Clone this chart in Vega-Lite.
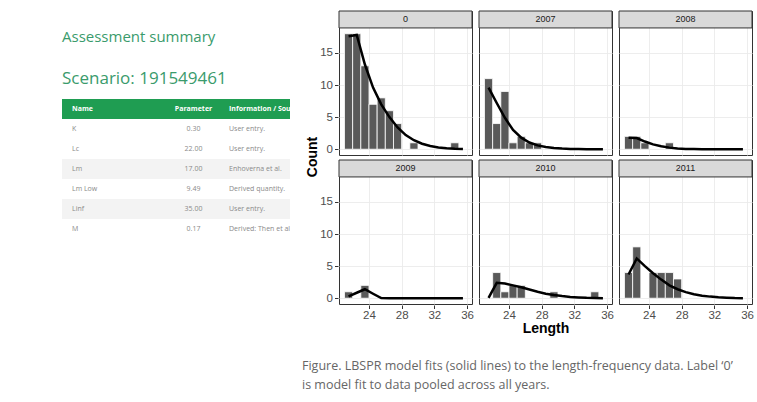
{
  "$schema": "https://vega.github.io/schema/vega-lite/v6.json",
  "padding": {"left": 62, "top": 10, "right": 0, "bottom": 0},
  "background": "white",
  "spacing": 11,
  "hconcat": [
    {
      "width": 228,
      "height": 294,
      "view": {"stroke": null},
      "data": {"values": [
        {"row": "Name", "col": "Name", "text": "Name"},
        {"row": "Name", "col": "Parameter", "text": "Parameter"},
        {"row": "Name", "col": "Info", "text": "Information / Source"},
        {"row": "K", "col": "Name", "text": "K"},
        {"row": "K", "col": "Parameter", "text": "0.30"},
        {"row": "K", "col": "Info", "text": "User entry."},
        {"row": "Lc", "col": "Name", "text": "Lc"},
        {"row": "Lc", "col": "Parameter", "text": "22.00"},
        {"row": "Lc", "col": "Info", "text": "User entry."},
        {"row": "Lm", "col": "Name", "text": "Lm"},
        {"row": "Lm", "col": "Parameter", "text": "17.00"},
        {"row": "Lm", "col": "Info", "text": "Enhoverna et al."},
        {"row": "Lm Low", "col": "Name", "text": "Lm Low"},
        {"row": "Lm Low", "col": "Parameter", "text": "9.49"},
        {"row": "Lm Low", "col": "Info", "text": "Derived quantity."},
        {"row": "Linf", "col": "Name", "text": "Linf"},
        {"row": "Linf", "col": "Parameter", "text": "35.00"},
        {"row": "Linf", "col": "Info", "text": "User entry."},
        {"row": "M", "col": "Name", "text": "M"},
        {"row": "M", "col": "Parameter", "text": "0.17"},
        {"row": "M", "col": "Info", "text": "Derived: Then et al."}
      ]},
      "encoding": {
        "y": {"field": "row", "type": "ordinal", "sort": ["Name", "K", "Lc", "Lm", "Lm Low", "Linf", "M"], "scale": {"range": [88, 228], "paddingInner": 0, "paddingOuter": 0}, "axis": null}
      },
      "layer": [
        {"transform": [{"filter": "datum.row === 'Name'"}], "mark": {"type": "rect", "color": "#1f9d52"}},
        {"transform": [{"filter": "datum.row === 'Lm' || datum.row === 'Linf'"}], "mark": {"type": "rect", "color": "#f3f3f3"}},
        {"transform": [{"filter": "datum.row === 'Name' && datum.col !== 'Parameter'"}],
         "mark": {"type": "text", "align": "left", "baseline": "middle", "font": "Open Sans", "fontSize": 7, "fontWeight": "bold", "color": "white", "clip": true},
         "encoding": {"x": {"field": "col", "type": "nominal", "sort": ["Name", "Parameter", "Info"], "scale": {"type": "point", "range": [10, 167], "padding": 0}, "axis": null}, "text": {"field": "text"}}},
        {"transform": [{"filter": "datum.row === 'Name' && datum.col === 'Parameter'"}],
         "mark": {"type": "text", "align": "center", "baseline": "middle", "dx": 43, "font": "Open Sans", "fontSize": 7, "fontWeight": "bold", "color": "white"},
         "encoding": {"x": {"field": "col", "type": "nominal", "sort": ["Name", "Parameter", "Info"], "scale": {"type": "point", "range": [10, 167], "padding": 0}, "axis": null}, "text": {"field": "text"}}},
        {"transform": [{"filter": "datum.row !== 'Name' && datum.col !== 'Parameter'"}],
         "mark": {"type": "text", "align": "left", "baseline": "middle", "font": "Open Sans", "fontSize": 7, "color": "#8a8a8a", "clip": true},
         "encoding": {"x": {"field": "col", "type": "nominal", "sort": ["Name", "Parameter", "Info"], "scale": {"type": "point", "range": [10, 167], "padding": 0}, "axis": null}, "text": {"field": "text"}}},
        {"transform": [{"filter": "datum.row !== 'Name' && datum.col === 'Parameter'"}],
         "mark": {"type": "text", "align": "center", "baseline": "middle", "dx": 43, "font": "Open Sans", "fontSize": 7, "color": "#8a8a8a"},
         "encoding": {"x": {"field": "col", "type": "nominal", "sort": ["Name", "Parameter", "Info"], "scale": {"type": "point", "range": [10, 167], "padding": 0}, "axis": null}, "text": {"field": "text"}}},
        {"transform": [{"filter": "datum.row === 'Name' && datum.col === 'Name'"}],
         "mark": {"type": "text", "align": "left", "baseline": "middle", "dx": -10, "dy": -72, "font": "Open Sans", "fontSize": 15, "color": "#3a9b6c"},
         "encoding": {"x": {"field": "col", "type": "nominal", "sort": ["Name", "Parameter", "Info"], "scale": {"type": "point", "range": [10, 167], "padding": 0}, "axis": null}, "text": {"value": "Assessment summary"}}},
        {"transform": [{"filter": "datum.row === 'Name' && datum.col === 'Name'"}],
         "mark": {"type": "text", "align": "left", "baseline": "middle", "dx": -10, "dy": -30, "font": "Open Sans", "fontSize": 17, "color": "#3a9b6c"},
         "encoding": {"x": {"field": "col", "type": "nominal", "sort": ["Name", "Parameter", "Info"], "scale": {"type": "point", "range": [10, 167], "padding": 0}, "axis": null}, "text": {"value": "Scenario: 191549461"}}}
      ]
    },
    {
      "data": {"values": [
        {"panel": "0", "lo": 21, "hi": 22, "n": 18}, {"panel": "0", "lo": 22, "hi": 23, "n": 18}, {"panel": "0", "lo": 23, "hi": 24, "n": 13},
        {"panel": "0", "lo": 24, "hi": 25, "n": 7}, {"panel": "0", "lo": 25, "hi": 26, "n": 8}, {"panel": "0", "lo": 26, "hi": 27, "n": 6},
        {"panel": "0", "lo": 27, "hi": 28, "n": 4}, {"panel": "0", "lo": 29, "hi": 30, "n": 1}, {"panel": "0", "lo": 34, "hi": 35, "n": 1},
        {"panel": "2007", "lo": 21, "hi": 22, "n": 11}, {"panel": "2007", "lo": 22, "hi": 23, "n": 4}, {"panel": "2007", "lo": 23, "hi": 24, "n": 9},
        {"panel": "2007", "lo": 24, "hi": 25, "n": 1}, {"panel": "2007", "lo": 25, "hi": 26, "n": 2}, {"panel": "2007", "lo": 26, "hi": 27, "n": 1},
        {"panel": "2007", "lo": 27, "hi": 28, "n": 1},
        {"panel": "2008", "lo": 21, "hi": 22, "n": 2}, {"panel": "2008", "lo": 22, "hi": 23, "n": 2}, {"panel": "2008", "lo": 23, "hi": 24, "n": 1},
        {"panel": "2008", "lo": 26, "hi": 27, "n": 1},
        {"panel": "2009", "lo": 21, "hi": 22, "n": 1}, {"panel": "2009", "lo": 23, "hi": 24, "n": 2},
        {"panel": "2010", "lo": 22, "hi": 23, "n": 4}, {"panel": "2010", "lo": 23, "hi": 24, "n": 1}, {"panel": "2010", "lo": 24, "hi": 25, "n": 2},
        {"panel": "2010", "lo": 25, "hi": 26, "n": 2}, {"panel": "2010", "lo": 29, "hi": 30, "n": 1}, {"panel": "2010", "lo": 34, "hi": 35, "n": 1},
        {"panel": "2011", "lo": 21, "hi": 22, "n": 4}, {"panel": "2011", "lo": 22, "hi": 23, "n": 8}, {"panel": "2011", "lo": 24, "hi": 25, "n": 4},
        {"panel": "2011", "lo": 25, "hi": 26, "n": 4}, {"panel": "2011", "lo": 26, "hi": 27, "n": 4}, {"panel": "2011", "lo": 27, "hi": 28, "n": 3},

        {"panel": "0", "len": 21.5, "fit": 17.6}, {"panel": "0", "len": 22.5, "fit": 17.8}, {"panel": "0", "len": 23.5, "fit": 13.2},
        {"panel": "0", "len": 24.5, "fit": 9.6}, {"panel": "0", "len": 25.5, "fit": 7.0}, {"panel": "0", "len": 26.5, "fit": 5.0},
        {"panel": "0", "len": 27.5, "fit": 3.4}, {"panel": "0", "len": 28.5, "fit": 2.2}, {"panel": "0", "len": 29.5, "fit": 1.4},
        {"panel": "0", "len": 30.5, "fit": 0.85}, {"panel": "0", "len": 31.5, "fit": 0.5}, {"panel": "0", "len": 32.5, "fit": 0.28},
        {"panel": "0", "len": 33.5, "fit": 0.14}, {"panel": "0", "len": 34.5, "fit": 0.06}, {"panel": "0", "len": 35.5, "fit": 0.02},

        {"panel": "2007", "len": 21.5, "fit": 9.6}, {"panel": "2007", "len": 22.5, "fit": 7.2}, {"panel": "2007", "len": 23.5, "fit": 4.9},
        {"panel": "2007", "len": 24.5, "fit": 3.0}, {"panel": "2007", "len": 25.5, "fit": 1.8}, {"panel": "2007", "len": 26.5, "fit": 1.05},
        {"panel": "2007", "len": 27.5, "fit": 0.6}, {"panel": "2007", "len": 28.5, "fit": 0.35}, {"panel": "2007", "len": 29.5, "fit": 0.2},
        {"panel": "2007", "len": 30.5, "fit": 0.1}, {"panel": "2007", "len": 31.5, "fit": 0.05}, {"panel": "2007", "len": 32.5, "fit": 0.02},
        {"panel": "2007", "len": 33.5, "fit": 0.01}, {"panel": "2007", "len": 34.5, "fit": 0}, {"panel": "2007", "len": 35.5, "fit": 0},

        {"panel": "2008", "len": 21.5, "fit": 1.8}, {"panel": "2008", "len": 22.5, "fit": 1.75}, {"panel": "2008", "len": 23.5, "fit": 1.2},
        {"panel": "2008", "len": 24.5, "fit": 0.75}, {"panel": "2008", "len": 25.5, "fit": 0.45}, {"panel": "2008", "len": 26.5, "fit": 0.25},
        {"panel": "2008", "len": 27.5, "fit": 0.12}, {"panel": "2008", "len": 28.5, "fit": 0.05}, {"panel": "2008", "len": 29.5, "fit": 0.02},
        {"panel": "2008", "len": 30.5, "fit": 0}, {"panel": "2008", "len": 31.5, "fit": 0}, {"panel": "2008", "len": 32.5, "fit": 0},
        {"panel": "2008", "len": 33.5, "fit": 0}, {"panel": "2008", "len": 34.5, "fit": 0}, {"panel": "2008", "len": 35.5, "fit": 0},

        {"panel": "2009", "len": 21.5, "fit": 0.3}, {"panel": "2009", "len": 22.5, "fit": 0.85}, {"panel": "2009", "len": 23.5, "fit": 1.4},
        {"panel": "2009", "len": 24.5, "fit": 0.7}, {"panel": "2009", "len": 25.5, "fit": 0.02}, {"panel": "2009", "len": 26.5, "fit": 0},
        {"panel": "2009", "len": 27.5, "fit": 0}, {"panel": "2009", "len": 28.5, "fit": 0}, {"panel": "2009", "len": 29.5, "fit": 0},
        {"panel": "2009", "len": 30.5, "fit": 0}, {"panel": "2009", "len": 31.5, "fit": 0}, {"panel": "2009", "len": 32.5, "fit": 0},
        {"panel": "2009", "len": 33.5, "fit": 0}, {"panel": "2009", "len": 34.5, "fit": 0}, {"panel": "2009", "len": 35.5, "fit": 0},

        {"panel": "2010", "len": 21.5, "fit": 0.05}, {"panel": "2010", "len": 22.5, "fit": 2.4}, {"panel": "2010", "len": 23.5, "fit": 2.3},
        {"panel": "2010", "len": 24.5, "fit": 2.0}, {"panel": "2010", "len": 25.5, "fit": 1.7}, {"panel": "2010", "len": 26.5, "fit": 1.35},
        {"panel": "2010", "len": 27.5, "fit": 1.0}, {"panel": "2010", "len": 28.5, "fit": 0.7}, {"panel": "2010", "len": 29.5, "fit": 0.5},
        {"panel": "2010", "len": 30.5, "fit": 0.33}, {"panel": "2010", "len": 31.5, "fit": 0.2}, {"panel": "2010", "len": 32.5, "fit": 0.12},
        {"panel": "2010", "len": 33.5, "fit": 0.06}, {"panel": "2010", "len": 34.5, "fit": 0.03}, {"panel": "2010", "len": 35.5, "fit": 0.01},

        {"panel": "2011", "len": 21.5, "fit": 3.7}, {"panel": "2011", "len": 22.5, "fit": 6.2}, {"panel": "2011", "len": 23.5, "fit": 5.0},
        {"panel": "2011", "len": 24.5, "fit": 3.9}, {"panel": "2011", "len": 25.5, "fit": 2.9}, {"panel": "2011", "len": 26.5, "fit": 2.0},
        {"panel": "2011", "len": 27.5, "fit": 1.4}, {"panel": "2011", "len": 28.5, "fit": 0.95}, {"panel": "2011", "len": 29.5, "fit": 0.62},
        {"panel": "2011", "len": 30.5, "fit": 0.4}, {"panel": "2011", "len": 31.5, "fit": 0.25}, {"panel": "2011", "len": 32.5, "fit": 0.15},
        {"panel": "2011", "len": 33.5, "fit": 0.08}, {"panel": "2011", "len": 34.5, "fit": 0.03}, {"panel": "2011", "len": 35.5, "fit": 0.01}
      ]},
      "transform": [
        {"calculate": "indexof(['0', '2007', '2008'], datum.panel) >= 0 ? 'top' : 'bottom'", "as": "frow"},
        {"calculate": "indexof(['0', '2009'], datum.panel) >= 0 ? 'left' : (indexof(['2007', '2010'], datum.panel) >= 0 ? 'middle' : 'right')", "as": "fcol"}
      ],
      "facet": {
        "row": {"field": "frow", "type": "nominal", "sort": ["top", "bottom"],
                "header": {"labels": false, "title": "Count", "titleOrient": "left", "titleFont": "Liberation Sans", "titleFontSize": 14, "titleFontWeight": "bold", "titleColor": "#000000", "titlePadding": -11, "labelPadding": 0}},
        "column": {"field": "fcol", "type": "nominal", "sort": ["left", "middle", "right"],
                "header": {"labels": false, "title": "Length", "titleOrient": "bottom", "titleFont": "Liberation Sans", "titleFontSize": 14, "titleFontWeight": "bold", "titleColor": "#000000", "titlePadding": -9, "labelPadding": 0}}
      },
      "spacing": {"row": 3, "column": 5},
      "title": {
        "text": ["Figure. LBSPR model fits (solid lines) to the length-frequency data. Label ‘0’", "is model fit to data pooled across all years."],
        "orient": "bottom", "anchor": "start", "font": "Open Sans", "fontSize": 12.5, "fontWeight": "normal",
        "color": "#666666", "offset": 24, "lineHeight": 19, "dx": -4
      },
      "spec": {
        "width": 133,
        "height": 144,
        "layer": [
          {
            "transform": [{"filter": "isValid(datum.n)"}],
            "mark": {"type": "rect", "color": "#595959", "stroke": "white", "strokeWidth": 0.8},
            "encoding": {
              "x": {"field": "lo", "type": "quantitative",
                    "scale": {"domain": [20.33, 36.61], "nice": false, "zero": false},
                    "axis": {"title": null, "values": [24, 28, 32, 36], "labelPadding": 1, "gridWidth": 0.9}},
              "x2": {"field": "hi"},
              "y": {"field": "n", "type": "quantitative",
                    "scale": {"domain": [-0.9, 21.54], "nice": false, "zero": false},
                    "axis": {"title": null, "values": [0, 2.5, 5, 7.5, 10, 12.5, 15, 17.5], "labelExpr": "datum.value % 5 === 0 ? datum.label : ''",
                             "labelOverlap": false,
                             "tickOpacity": {"condition": {"test": "datum.value % 5 === 0", "value": 1}, "value": 0},
                             "gridWidth": {"condition": {"test": "datum.value % 5 === 0", "value": 0.9}, "value": 0.5},
                             "labelPadding": 2}},
              "y2": {"datum": 0}
            }
          },
          {
            "transform": [{"filter": "isValid(datum.fit)"}],
            "mark": {"type": "line", "color": "black", "strokeWidth": 2.5},
            "encoding": {
              "x": {"field": "len", "type": "quantitative", "title": null},
              "y": {"field": "fit", "type": "quantitative", "title": null}
            }
          },
          {
            "transform": [{"filter": "datum.len === 21.5"}],
            "mark": {"type": "rect", "color": "#d9d9d9", "stroke": "#333333", "strokeWidth": 1},
            "encoding": {
              "x": {"datum": 20.33}, "x2": {"datum": 36.61},
              "y": {"datum": 18.9}, "y2": {"datum": 21.54}
            }
          },
          {
            "transform": [{"filter": "datum.len === 21.5"}],
            "mark": {"type": "text", "font": "Liberation Sans", "fontSize": 9, "color": "#1a1a1a", "baseline": "middle", "align": "center"},
            "encoding": {
              "x": {"datum": 28.47}, "y": {"datum": 20.22},
              "text": {"field": "panel"}
            }
          }
        ]
      }
    }
  ],
  "config": {
    "view": {"stroke": "#333333", "strokeWidth": 1},
    "font": "Liberation Sans",
    "axis": {
      "domain": false, "grid": true, "gridColor": "#ebebeb", "tickColor": "#333333", "tickSize": 3.5,
      "labelColor": "#4d4d4d", "labelFontSize": 11.5, "labelFont": "Liberation Sans",
      "titleFont": "Liberation Sans", "titleFontSize": 14, "titleFontWeight": "bold", "titleColor": "#000000"
    }
  }
}
